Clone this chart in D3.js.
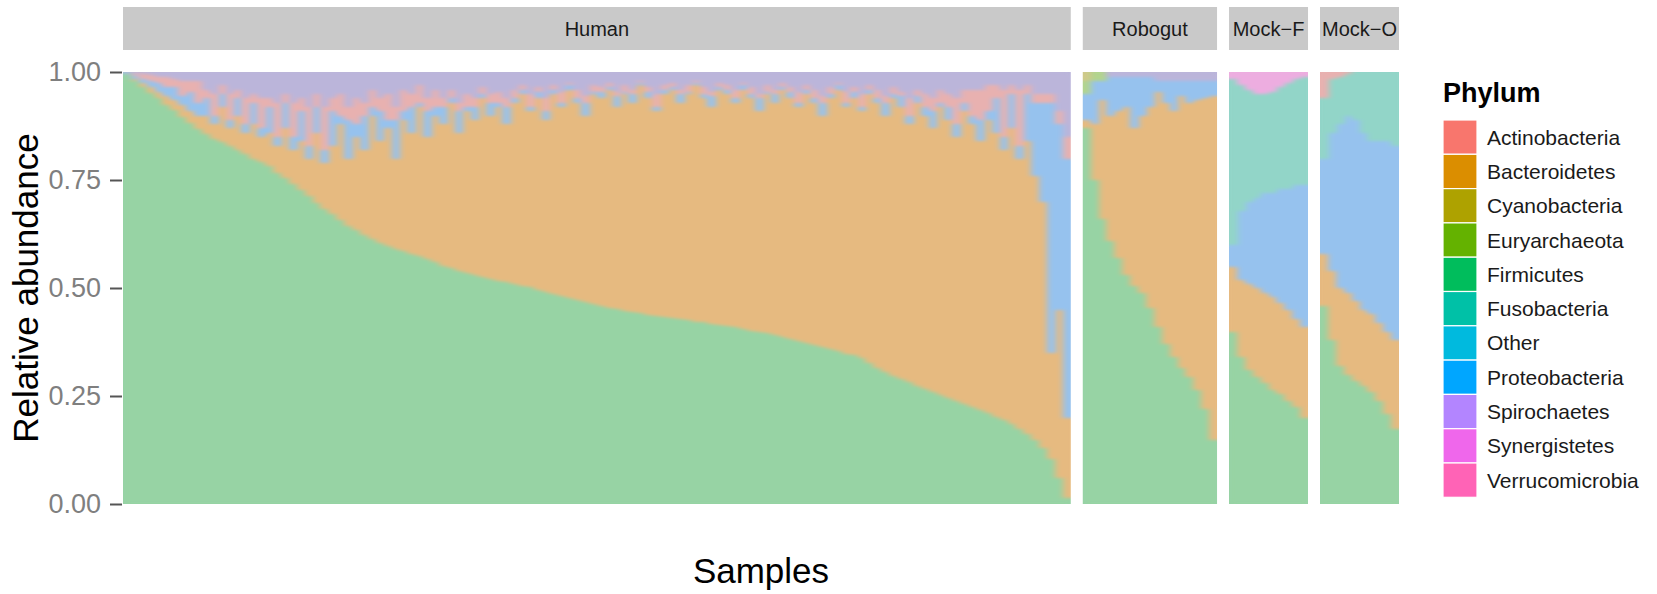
<!DOCTYPE html>
<html>
<head>
<meta charset="utf-8">
<script src="https://cdn.jsdelivr.net/npm/d3@7"></script>
<style>
  html, body { margin: 0; padding: 0; background: #fff; }
  svg { display: block; }
  text { font-family: "Liberation Sans", Arial, Helvetica, sans-serif; }
</style>
</head>
<body>
<svg id="chart" width="1657" height="594"></svg>
<script>
// ---------------- DATA ----------------
const phyla = ["Actinobacteria","Bacteroidetes","Cyanobacteria","Euryarchaeota","Firmicutes","Fusobacteria","Other","Proteobacteria","Spirochaetes","Synergistetes","Verrucomicrobia"];
const stackOrder = ["Firmicutes","Bacteroidetes","Proteobacteria","Fusobacteria","Other","Euryarchaeota","Cyanobacteria","Actinobacteria","Spirochaetes","Verrucomicrobia","Synergistetes"];
const panelNames = ["Human","Robogut","Mock-F","Mock-O"];
const stripLabels = ["Human","Robogut","Mock\u2212F","Mock\u2212O"];
const yTickValues = [0, 0.25, 0.5, 0.75, 1];
const yTickLabels = ["0.00","0.25","0.50","0.75","1.00"];

// Human (120 samples)
const humanFirmicutes = [.995,.980,.967,.953,.940,.925,.912,.897,.882,.868,
 .858,.846,.838,.830,.820,.810,.800,.792,.782,.768,
 .755,.742,.728,.713,.698,.684,.671,.659,.645,.634,
 .624,.614,.605,.598,.592,.586,.580,.575,.568,.560,
 .552,.546,.541,.536,.531,.527,.522,.518,.514,.510,
 .506,.502,.497,.492,.487,.482,.478,.474,.469,.464,
 .460,.455,.451,.448,.445,.442,.439,.436,.433,.431,
 .428,.426,.423,.421,.418,.416,.413,.410,.406,.402,
 .398,.396,.392,.388,.383,.378,.373,.368,.364,.359,
 .354,.349,.345,.338,.327,.316,.306,.297,.289,.282,
 .275,.267,.260,.253,.245,.238,.232,.226,.219,.211,
 .203,.195,.185,.174,.163,.150,.130,.105,.062,.015];
const humanBacteroidetes = [.002,.005,.008,.012,.015,.020,.023,.028,.028,.032,
 .042,.034,.082,.040,.080,.050,.080,.058,.078,.062,
 .115,.078,.112,.087,.162,.106,.159,.221,.155,.216,
 .196,.286,.235,.272,.208,.304,.280,.345,.282,.340,
 .328,.384,.319,.374,.359,.413,.378,.402,.366,.420,
 .444,.408,.443,.398,.463,.438,.482,.456,.431,.486,
 .480,.505,.469,.502,.485,.528,.501,.474,.517,.529,
 .502,.524,.547,.519,.502,.544,.537,.520,.554,.538,
 .512,.554,.538,.572,.557,.542,.577,.562,.536,.581,
 .606,.571,.595,.572,.623,.614,.594,.643,.631,.598,
 .655,.633,.610,.667,.645,.612,.678,.654,.621,.679,
 .657,.625,.685,.626,.677,.610,.570,.245,.388,.185];
const humanProteobacteria = [.001,.006,.010,.014,.020,.020,.030,.020,.045,.030,
 .040,.020,.030,.020,.040,.020,.050,.020,.060,.020,
 .060,.030,.070,.030,.060,.030,.080,.020,.090,.030,
 .080,.020,.070,.020,.090,.020,.060,.010,.060,.020,
 .040,.010,.050,.010,.030,.010,.030,.010,.040,.010,
 .010,.010,.015,.020,.010,.010,.010,.010,.030,.005,
 .015,.005,.025,.005,.020,.005,.015,.010,.010,.005,
 .020,.005,.005,.010,.025,.005,.010,.010,.010,.010,
 .030,.005,.020,.005,.015,.010,.010,.010,.030,.010,
 .010,.010,.015,.010,.010,.010,.030,.010,.025,.020,
 .015,.020,.040,.010,.030,.030,.020,.020,.050,.020,
 .080,.030,.080,.030,.110,.170,.230,.580,.430,.600];
const humanSpirochaetes = [.001,.003,.005,.006,.010,.010,.015,.020,.020,.020,
 .040,.050,.030,.050,.040,.060,.050,.060,.060,.070,
 .050,.070,.060,.080,.050,.080,.060,.050,.080,.060,
 .070,.040,.060,.050,.080,.040,.050,.030,.060,.040,
 .060,.040,.070,.050,.060,.035,.050,.045,.060,.040,
 .030,.050,.035,.060,.030,.045,.025,.040,.055,.030,
 .035,.025,.045,.030,.040,.020,.035,.050,.030,.025,
 .040,.030,.020,.035,.045,.025,.030,.040,.025,.035,
 .050,.030,.040,.025,.035,.045,.030,.040,.055,.035,
 .025,.045,.035,.050,.030,.040,.055,.035,.045,.060,
 .040,.050,.060,.040,.050,.060,.040,.040,.040,.030,
 .030,.040,.030,.040,.030,.050,.050,.050,.090,.150];
const humanActinobacteria = [.001,.006,.010,.015,.015,.025,.020,.035,.025,.050,
 .020,.050,.020,.060,.020,.060,.020,.070,.020,.080,
 .020,.080,.030,.090,.030,.100,.030,.050,.030,.060,
 .030,.040,.030,.060,.030,.050,.030,.040,.030,.040,
 .020,.020,.020,.030,.020,.015,.020,.025,.020,.020,
 .010,.030,.010,.030,.010,.025,.005,.020,.015,.015,
 .010,.010,.010,.015,.010,.005,.010,.030,.010,.010,
 .010,.015,.005,.015,.010,.010,.010,.020,.005,.015,
 .010,.015,.010,.010,.010,.025,.010,.020,.015,.015,
 .005,.025,.010,.030,.010,.020,.015,.015,.010,.040,
 .015,.030,.030,.030,.030,.060,.030,.060,.070,.060,
 .030,.110,.020,.130,.020,.020,.020,.020,.030,.050];

// Robogut (17 samples)
const robogutFirmicutes     = [.87,.75,.66,.61,.57,.53,.505,.49,.455,.41,.37,.34,.315,.295,.265,.22,.15];
const robogutBacteroidetes  = [.02,.13,.275,.29,.34,.39,.365,.41,.465,.545,.56,.57,.63,.635,.67,.72,.795];
const robogutProteobacteria = [.06,.10,.045,.09,.08,.07,.12,.09,.07,.025,.05,.07,.035,.05,.045,.04,.035];
const robogutEuryarchaeota  = [.03,.02,.02,0,0,0,0,0,0,0,0,0,0,0,0,0,0];
const robogutCyanobacteria  = [.02,0,0,0,0,0,0,0,0,0,0,0,0,0,0,0,0];
const robogutSpirochaetes   = [0,0,0,.01,.01,.01,.01,.01,.01,.02,.02,.02,.02,.02,.02,.02,.02];

// Mock-F (10 samples)
const mockFFirmicutes     = [.40,.34,.31,.295,.28,.265,.255,.24,.225,.20];
const mockFBacteroidetes  = [.15,.18,.20,.205,.21,.215,.21,.21,.205,.21];
const mockFProteobacteria = [.05,.16,.19,.21,.23,.24,.265,.28,.31,.33];
const mockFFusobacteria   = [.385,.29,.26,.24,.23,.235,.235,.245,.245,.25];
const mockFSynergistetes  = [.015,.03,.04,.05,.05,.045,.035,.025,.015,.01];

// Mock-O (10 samples)
const mockOFirmicutes     = [.46,.38,.32,.30,.285,.275,.26,.24,.21,.175];
const mockOBacteroidetes  = [.12,.16,.18,.19,.185,.175,.18,.18,.19,.205];
const mockOProteobacteria = [.22,.32,.38,.41,.42,.41,.40,.42,.44,.45];
const mockOFusobacteria   = [.14,.125,.11,.095,.11,.14,.16,.16,.16,.17];
const mockOActinobacteria = [.06,.015,.01,.005,0,0,0,0,0,0];

// ---------------- STYLE ----------------
const legendColors = ["#F8766D","#DB8E00","#AEA200","#64B200","#00BD5C","#00C1A7","#00BADE","#00A6FF","#B385FF","#EF67EB","#FF63B6"];
const barColors    = ["#E8B1B0","#E6BA80","#CFC98A","#B2D48E","#97D3A4","#92D5C8","#93D2E4","#96C2EE","#BBB5DA","#EDADE0","#F3AECF"];
const legendScale = d3.scaleOrdinal().domain(phyla).range(legendColors);
const barScale = d3.scaleOrdinal().domain(phyla).range(barColors);

// ---------------- BUILD ROWS ----------------
const panelSeries = {
  "Human":   {Firmicutes: humanFirmicutes, Bacteroidetes: humanBacteroidetes, Proteobacteria: humanProteobacteria, Spirochaetes: humanSpirochaetes, Actinobacteria: humanActinobacteria},
  "Robogut": {Firmicutes: robogutFirmicutes, Bacteroidetes: robogutBacteroidetes, Proteobacteria: robogutProteobacteria, Euryarchaeota: robogutEuryarchaeota, Cyanobacteria: robogutCyanobacteria, Spirochaetes: robogutSpirochaetes},
  "Mock-F":  {Firmicutes: mockFFirmicutes, Bacteroidetes: mockFBacteroidetes, Proteobacteria: mockFProteobacteria, Fusobacteria: mockFFusobacteria, Synergistetes: mockFSynergistetes},
  "Mock-O":  {Firmicutes: mockOFirmicutes, Bacteroidetes: mockOBacteroidetes, Proteobacteria: mockOProteobacteria, Fusobacteria: mockOFusobacteria, Actinobacteria: mockOActinobacteria}
};

function buildRows(name) {
  const s = panelSeries[name];
  const n = s.Firmicutes.length;
  const rows = [];
  for (let i = 0; i < n; i++) {
    const r = {sample: name + "_" + (i + 1)};
    phyla.forEach(p => { r[p] = s[p] ? s[p][i] : 0; });
    rows.push(r);
  }
  return rows;
}

// ---------------- LAYOUT ----------------
const svg = d3.select("#chart");
const plotLeft = 123, plotRight = 1399, plotTop = 72, plotBottom = 504, gap = 12;
const stripTop = 7, stripBottom = 50;

// soft filter: blur then restore full opacity (mimics the soft, blended look of the dense bars)
const defs = svg.append("defs");
const flt = defs.append("filter").attr("id", "soft")
  .attr("x", "-2%").attr("y", "-2%").attr("width", "104%").attr("height", "104%")
  .attr("color-interpolation-filters", "sRGB");
flt.append("feGaussianBlur").attr("stdDeviation", "3 1.8").attr("result", "b");
const ct = flt.append("feComponentTransfer").attr("in", "b");
ct.append("feFuncA").attr("type", "linear").attr("slope", 30).attr("intercept", 0);

const panelRows = panelNames.map(buildRows);
const counts = panelRows.map(r => r.length);
const total = d3.sum(counts);
const perSample = (plotRight - plotLeft - gap * (panelNames.length - 1)) / total;

let cursor = plotLeft;
const panelBounds = counts.map(c => { const x0 = cursor; const x1 = x0 + c * perSample; cursor = x1 + gap; return [x0, x1]; });

const y = d3.scaleLinear().domain([0, 1]).range([plotBottom, plotTop]);
const stack = d3.stack().keys(stackOrder);

panelNames.forEach((name, pi) => {
  const rows = panelRows[pi];
  const [x0, x1] = panelBounds[pi];
  const x = d3.scaleBand().domain(rows.map(r => r.sample)).range([x0, x1]).padding(0);

  // strip
  svg.append("rect").attr("x", x0).attr("y", stripTop).attr("width", x1 - x0).attr("height", stripBottom - stripTop).attr("fill", "#C9C9C9");
  svg.append("text").attr("x", (x0 + x1) / 2).attr("y", (stripTop + stripBottom) / 2)
    .attr("text-anchor", "middle").attr("dominant-baseline", "central")
    .attr("font-size", 20).attr("fill", "#1A1A1A").text(stripLabels[pi]);

  const clipId = "clip" + pi;
  defs.append("clipPath").attr("id", clipId).append("rect")
    .attr("x", x0).attr("y", plotTop).attr("width", x1 - x0).attr("height", plotBottom - plotTop);

  const outer = svg.append("g").attr("clip-path", `url(#${clipId})`);
  const g = outer.append("g").attr("filter", "url(#soft)");
  const series = stack(rows);
  g.selectAll("g.layer").data(series).join("g").attr("class", "layer")
    .attr("fill", d => barScale(d.key))
    .selectAll("rect").data(d => d).join("rect")
      .attr("x", d => x(d.data.sample))
      .attr("width", x.bandwidth() + 0.8)
      .attr("y", d => y(d[1]))
      .attr("height", d => Math.max(0, y(d[0]) - y(d[1]) + 0.3))
      .attr("shape-rendering", "crispEdges");
});

// y axis
const yAxis = d3.axisLeft(y).tickValues(yTickValues).tickFormat((d, i) => yTickLabels[i]).tickSize(12).tickPadding(9);
const ax = svg.append("g").attr("transform", `translate(${plotLeft - 1},0)`).call(yAxis);
ax.select(".domain").remove();
ax.selectAll(".tick line").attr("stroke", "#555").attr("stroke-width", 2);
ax.selectAll(".tick text").attr("font-size", 27).attr("fill", "#7F7F7F")
  .attr("font-family", "Liberation Sans, Arial, sans-serif");

// axis titles
svg.append("text").attr("transform", `translate(38,${(plotTop + plotBottom) / 2}) rotate(-90)`)
  .attr("text-anchor", "middle").attr("font-size", 35).attr("fill", "#000").text("Relative abundance");
svg.append("text").attr("x", (plotLeft + plotRight) / 2).attr("y", 583)
  .attr("text-anchor", "middle").attr("font-size", 35).attr("fill", "#000").text("Samples");

// legend
const lg = svg.append("g");
lg.append("text").attr("x", 1443).attr("y", 102).attr("font-size", 27).attr("font-weight", "bold").attr("fill", "#000").text("Phylum");
const keyH = 34.3, keyW = 34, keyTop = 120, keyX = 1443;
phyla.forEach((p, i) => {
  lg.append("rect").attr("x", keyX).attr("y", keyTop + i * keyH).attr("width", keyW).attr("height", keyH)
    .attr("fill", legendScale(p)).attr("stroke", "#fff").attr("stroke-width", 1.2);
  lg.append("text").attr("x", 1487).attr("y", keyTop + i * keyH + keyH / 2)
    .attr("dominant-baseline", "central").attr("font-size", 21).attr("fill", "#1A1A1A").text(p);
});
</script>
</body>
</html>
